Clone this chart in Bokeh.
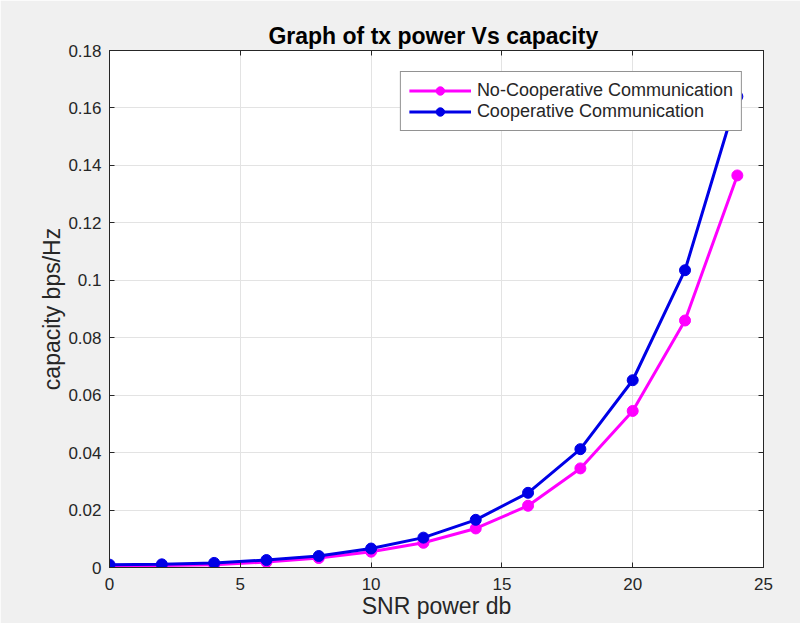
from bokeh.plotting import figure
from bokeh.models import FixedTicker, CustomJSTickFormatter, LinearAxis, Range1d, Legend
from bokeh.embed import file_html
from bokeh.resources import INLINE

snr_db = [0, 2, 4, 6, 8, 10, 12, 14, 16, 18, 20, 22, 24]
no_coop = [0.0005, 0.0007, 0.0010, 0.0019, 0.0033, 0.0055, 0.0086, 0.0136, 0.0215, 0.0345, 0.0545, 0.0860, 0.1365]
coop = [0.0010, 0.0011, 0.0016, 0.0026, 0.0040, 0.0066, 0.0104, 0.0166, 0.0260, 0.0412, 0.0652, 0.1035, 0.1640]
x_ticks = [0, 5, 10, 15, 20, 25]
y_ticks = [0, 0.02, 0.04, 0.06, 0.08, 0.1, 0.12, 0.14, 0.16, 0.18]

FONT = "Liberation Sans"
TXT = "#262626"

p = figure(width=800, height=623, output_backend="svg", toolbar_location=None,
           x_range=Range1d(0, 25), y_range=Range1d(0, 0.18),
           min_border_left=109, min_border_right=37, min_border_top=50, min_border_bottom=56,
           title="Graph of tx power  Vs capacity")
p.background_fill_color = "white"
p.border_fill_color = "#f0f0f0"
p.outline_line_color = "#262626"
p.outline_line_width = 1

p.title.text_font = FONT
p.title.text_font_size = "23px"
p.title.text_font_style = "bold"
p.title.text_color = "black"
p.title.align = "center"
p.title.offset = 0
p.title.standoff = 4

for ax in (p.xaxis[0], p.yaxis[0]):
    ax.major_tick_in = 5
    ax.major_tick_out = 0
    ax.minor_tick_in = 0
    ax.minor_tick_out = 0
    ax.axis_line_color = "#262626"
    ax.major_tick_line_color = "#262626"
    ax.major_label_text_font = FONT
    ax.major_label_text_font_size = "17px"
    ax.major_label_text_color = TXT
    ax.axis_label_text_font = FONT
    ax.axis_label_text_font_size = "23px"
    ax.axis_label_text_font_style = "normal"
    ax.axis_label_text_color = TXT

p.xaxis.ticker = FixedTicker(ticks=x_ticks)
p.yaxis.ticker = FixedTicker(ticks=y_ticks)
p.yaxis.formatter = CustomJSTickFormatter(code="return tick.toFixed(2).replace(/\\.?0+$/, '');")
p.xaxis.axis_label = "SNR power db"
p.yaxis.axis_label = "capacity bps/Hz"
p.xaxis.major_label_standoff = 10
p.xaxis.axis_label_standoff = 0
p.yaxis.major_label_standoff = 8
p.yaxis.axis_label_standoff = 0

# box ticks on top and right
for loc in ("above", "right"):
    a = LinearAxis(ticker=FixedTicker(ticks=x_ticks if loc == "above" else y_ticks))
    a.major_tick_in = 5
    a.major_tick_out = 0
    a.minor_tick_in = 0
    a.minor_tick_out = 0
    a.major_label_text_font_size = "1px"
    a.major_label_text_color = None
    a.major_label_standoff = 0
    a.axis_line_color = "#262626"
    a.major_tick_line_color = "#262626"
    p.add_layout(a, loc)

p.grid.grid_line_color = "#e3e3e3"
p.grid.grid_line_width = 1

r1 = p.line(snr_db, no_coop, line_color="#ff00ff", line_width=3)
s1 = p.scatter(snr_db, no_coop, marker="circle", size=11, fill_color="#ff00ff", line_color="#ff00ff")
r2 = p.line(snr_db, coop, line_color="#0000e6", line_width=3)
s2 = p.scatter(snr_db, coop, marker="circle", size=11, fill_color="#0000e6", line_color="#0000e6")

legend = Legend(items=[("No-Cooperative Communication", [r1, s1]),
                       ("Cooperative Communication", [r2, s2])],
                location="top_right")
legend.level = "overlay"
legend.label_text_font = FONT
legend.label_text_font_size = "18px"
legend.label_text_color = TXT
legend.border_line_color = "#262626"
legend.border_line_width = 1
legend.background_fill_color = "white"
legend.background_fill_alpha = 1
legend.glyph_width = 62
legend.label_standoff = 6
legend.spacing = 0
legend.padding = 8
legend.margin = 21
legend.label_height = 21
legend.glyph_height = 21
p.add_layout(legend)

open("out.html", "w").write(file_html(p, INLINE))
